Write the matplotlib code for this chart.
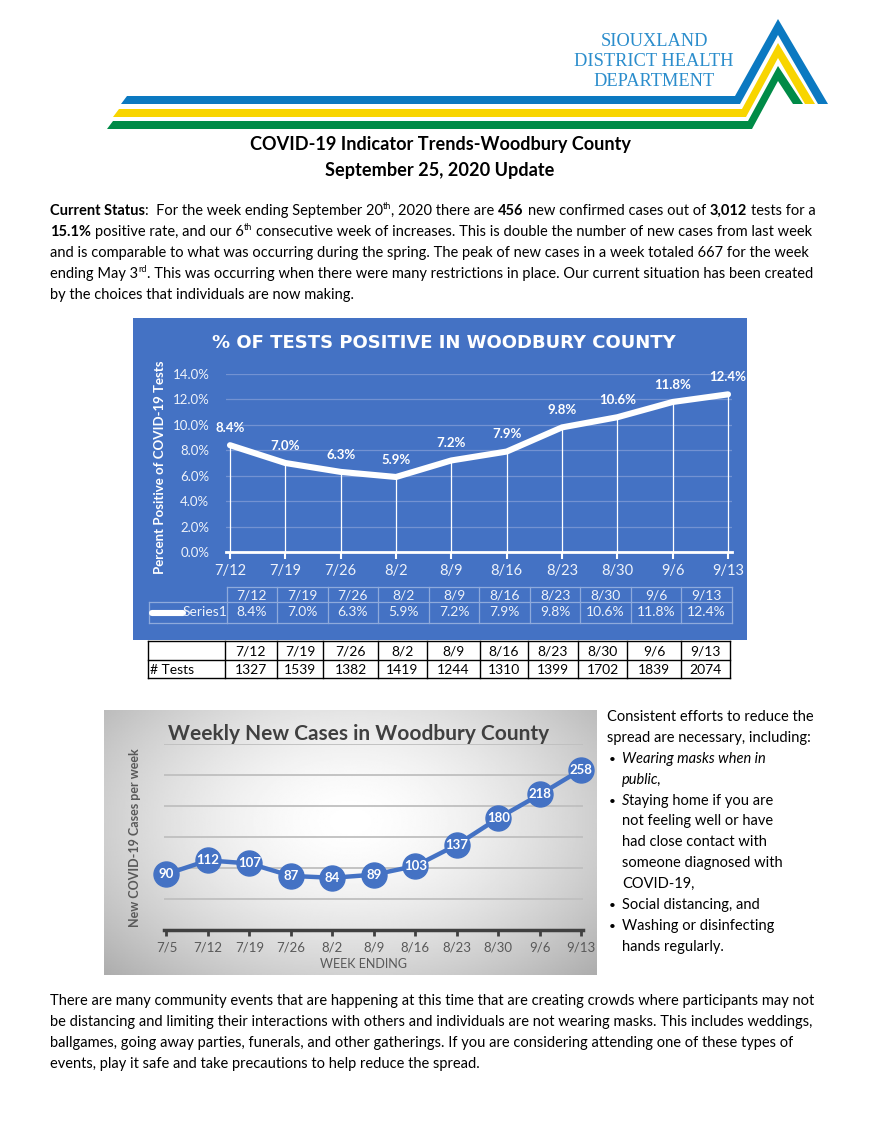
import numpy as np
import matplotlib
matplotlib.use("Agg")
import matplotlib.pyplot as plt
from matplotlib.patches import Polygon, Rectangle

W, H = 880, 1139
BODY = ["Lato", "DejaVu Sans"]

# ---- data ----
pos_weeks = ["7/12", "7/19", "7/26", "8/2", "8/9", "8/16", "8/23", "8/30", "9/6", "9/13"]
pos_rate = [8.4, 7.0, 6.3, 5.9, 7.2, 7.9, 9.8, 10.6, 11.8, 12.4]
num_tests = [1327, 1539, 1382, 1419, 1244, 1310, 1399, 1702, 1839, 2074]
case_weeks = ["7/5", "7/12", "7/19", "7/26", "8/2", "8/9", "8/16", "8/23", "8/30", "9/6", "9/13"]
new_cases = [90, 112, 107, 87, 84, 89, 103, 137, 180, 218, 258]

BLUE = "#4472C4"

fig = plt.figure(figsize=(W / 100, H / 100), dpi=100)
page = fig.add_axes([0, 0, 1, 1])
page.set_xlim(0, W)
page.set_ylim(H, 0)
page.axis("off")
renderer = fig.canvas.get_renderer()


def px_axes(x0, y0, x1, y1):
    return fig.add_axes([x0 / W, 1 - y1 / H, (x1 - x0) / W, (y1 - y0) / H])


def style_kw(style, size):
    return dict(fontsize=size * (0.62 if "^" in style else 1.0),
                fontweight="bold" if "b" in style else "normal",
                fontstyle="italic" if "i" in style else "normal",
                family=BODY)


def text_w(s, style, size):
    t = page.text(0, 0, s, **style_kw(style, size))
    w = t.get_window_extent(renderer).width
    t.remove()
    return w


def adv(s, style, size):
    # advance width incl. spaces / side bearings, measured between two bars
    return text_w("|" + s + "|", style, size) - text_w("||", style, size)


def runs(x, y, parts, size, draw=True, ax=page, color="black"):
    """draw a line made of styled pieces, left to right, baseline at y"""
    for s, style in parts:
        core = s.lstrip(" ")
        lead = s[:len(s) - len(core)]
        x0 = x + (adv(lead, style, size) if lead else 0)
        if draw and core.strip():
            dy = -size * 1.39 * 0.42 if "^" in style else 0
            ax.text(x0, y + dy, core, transform=page.transData, va="baseline",
                    ha="left", color=color, **style_kw(style, size))
        x += adv(s, style, size)
    return x


def fit_size(lines, targets, base=10.0):
    nat = sum(runs(0, 0, p, base, draw=False) for p in lines)
    return base * sum(targets) / nat


# ---- logo ----
blue_c, yel_c, grn_c = "#0b79c1", "#f8d500", "#008b47"
page.add_patch(Polygon([(121, 104), (127, 96), (735, 96), (778, 19), (828, 104),
                        (818, 104), (778, 35), (740, 104)], closed=True, color=blue_c, lw=0))
page.add_patch(Polygon([(113, 117), (119, 109), (742, 109), (778, 43), (815, 104),
                        (805, 104), (778, 58), (746, 117)], closed=True, color=yel_c, lw=0))
page.add_patch(Polygon([(107, 129), (113, 121), (748, 121), (778, 66), (803, 104),
                        (793, 104), (778, 81), (752, 129)], closed=True, color=grn_c, lw=0))
for yy, s in [(42, "SIOUXLAND"), (62, "DISTRICT HEALTH"), (82, "DEPARTMENT")]:
    page.text(654, yy, s, ha="center", va="center", family="Liberation Serif",
              fontsize=13.2, color="#2b8dcc")

# ---- heading ----
t1 = [("COVID-19 Indicator Trends-Woodbury County", "b")]
tsize = fit_size([t1], [382])
for yy, s in [(150, "COVID-19 Indicator Trends-Woodbury County"), (176, "September 25, 2020 Update")]:
    page.text(440, yy, s, ha="center", va="baseline", family=BODY, fontweight="bold",
              fontsize=tsize, color="black")

# ---- first paragraph ----
para1 = [
    [("Current Status", "b"), (":  For the week ending September 20", ""), ("th", "^"),
     (", 2020 there are ", ""), ("456", "b"), (" new confirmed cases out of ", ""),
     ("3,012", "b"), (" tests for a", "")],
    [("15.1%", "b"), (" positive rate, and our 6", ""), ("th", "^"),
     (" consecutive week of increases. This is double the number of new cases from last week", "")],
    [("and is comparable to what was occurring during the spring. The peak of new cases in a week totaled 667 for the week", "")],
    [("ending May 3", ""), ("rd", "^"),
     (". This was occurring when there were many restrictions in place. Our current situation has been created", "")],
    [("by the choices that individuals are now making.", "")],
]
bsize = fit_size(para1[:4], [758, 762, 761, 762])
for i, parts in enumerate(para1):
    runs(50, 215 + i * 20.9, parts, bsize)

# ---- chart 1: % positive ----
page.add_patch(Rectangle((133, 318), 614, 322, color=BLUE, lw=0))
page.text(444, 343, "% OF TESTS POSITIVE IN WOODBURY COUNTY", ha="center", va="center",
          family="DejaVu Sans", fontweight="bold", fontsize=13, color="white")
page.text(160, 467, "Percent Positive of COVID-19 Tests", rotation=90, ha="center",
          va="center", family=BODY, fontweight="bold", fontsize=9.5, color="white")

ax1 = px_axes(226, 374, 732, 552)
ax1.set_facecolor("none")
xs = np.arange(len(pos_weeks))
ax1.set_xlim(-0.072, 9.072)
ax1.set_ylim(0, 14)
ax1.set_yticks(np.arange(0, 15, 2))
ax1.set_yticklabels([f"{v:.1f}%" for v in np.arange(0, 15, 2)], family=BODY,
                    fontsize=9.5, color="#eef2fa")
ax1.set_xticks(xs)
ax1.set_xticklabels(pos_weeks, family=BODY, fontsize=10.5, color="#eef2fa")
ax1.tick_params(axis="y", length=0, pad=12)
ax1.tick_params(axis="x", length=5, width=1.5, color="white", pad=3.5)
ax1.yaxis.grid(True, color="#7392d2", lw=0.9)
ax1.set_axisbelow(True)
for k in ["top", "left", "right"]:
    ax1.spines[k].set_visible(False)
ax1.spines["bottom"].set_color("white")
ax1.spines["bottom"].set_linewidth(2)
ax1.vlines(xs, 0, pos_rate, color="white", lw=0.9, zorder=2)
ax1.plot(xs, pos_rate, color="white", lw=4.4, solid_capstyle="round",
         solid_joinstyle="round", zorder=3, clip_on=False)
for xi, v in zip(xs, pos_rate):
    ax1.annotate(f"{v:.1f}%", (xi, v), xytext=(0, 12.5), textcoords="offset points",
                 ha="center", va="center", family=BODY, fontweight="bold",
                 fontsize=9.5, color="white", annotation_clip=False)

# data table inside chart 1
tcol = np.linspace(226.6, 732, len(pos_weeks) + 1)
bc = "#8eaadc"
for yy in [587, 602, 623]:
    page.plot([tcol[0], tcol[-1]], [yy, yy], color=bc, lw=0.9)
page.plot([149, tcol[0]], [602, 602], color=bc, lw=0.9)
page.plot([149, tcol[0]], [623, 623], color=bc, lw=0.9)
page.plot([149, 149], [602, 623], color=bc, lw=0.9)
for xx in tcol:
    page.plot([xx, xx], [587, 623], color=bc, lw=0.9)
for i, (wk, v) in enumerate(zip(pos_weeks, pos_rate)):
    cx = (tcol[i] + tcol[i + 1]) / 2
    page.text(cx, 595, wk, ha="center", va="center", family=BODY, fontsize=10, color="#eef2fa")
    page.text(cx, 612.5, f"{v:.1f}%", ha="center", va="center", family=BODY, fontsize=10,
              color="#eef2fa")
page.plot([152, 183], [612.5, 612.5], color="white", lw=4.4, solid_capstyle="round")
page.text(183, 612.5, "Series1", ha="left", va="center", family=BODY, fontsize=10, color="#eef2fa")

# ---- tests table ----
ccol = [148, 225, 277, 323, 378, 427, 480, 528, 578, 627, 681, 730]
for yy in [641, 660, 678]:
    page.plot([ccol[0], ccol[-1]], [yy, yy], color="black", lw=1)
for xx in ccol:
    page.plot([xx, xx], [641, 678], color="black", lw=1)
for i, (wk, n) in enumerate(zip(pos_weeks, num_tests)):
    cx = (ccol[i + 1] + ccol[i + 2]) / 2
    page.text(cx, 651, wk, ha="center", va="center", family=BODY, fontsize=10)
    page.text(cx, 669.5, str(n), ha="center", va="center", family=BODY, fontsize=10)
page.text(150, 669.5, "# Tests", ha="left", va="center", family=BODY, fontsize=10)

# ---- chart 2: weekly new cases ----
bg = px_axes(104, 710, 597, 975)
gy, gx = np.mgrid[0:1:200j, 0:1:320j]
r = np.sqrt(((gx - 0.5) / 0.62) ** 2 + ((gy - 0.42) / 0.75) ** 2)
shade = 1 - 0.27 * np.clip(r, 0, 1.3) ** 1.6
bg.imshow(shade, cmap="gray", vmin=0, vmax=1, aspect="auto", extent=[0, 1, 1, 0])
bg.axis("off")

ax2 = px_axes(163.8, 743.5, 583, 930)
ax2.set_facecolor("none")
xc = np.arange(len(case_weeks))
ax2.set_xlim(-0.065, 10.04)
ax2.set_ylim(0, 300)
ax2.set_yticks(np.arange(50, 301, 50))
ax2.tick_params(axis="y", length=0, labelleft=False)
ax2.yaxis.grid(True, color="#bfbfbf", lw=1.3)
ax2.set_axisbelow(True)
ax2.set_xticks(xc)
ax2.set_xticklabels(case_weeks, family=BODY, fontsize=9.5, color="#595959")
ax2.tick_params(axis="x", length=4, width=2, color="#404040", pad=4.5)
for k in ["top", "left", "right"]:
    ax2.spines[k].set_visible(False)
ax2.spines["bottom"].set_color("#404040")
ax2.spines["bottom"].set_linewidth(2.5)
ax2.plot(xc, new_cases, color=BLUE, lw=3.2, marker="o", ms=18, mec=BLUE,
         zorder=3, clip_on=False)
for xi, v in zip(xc, new_cases):
    ax2.text(xi, v, str(v), ha="center", va="center", family=BODY, fontweight="bold",
             fontsize=9.5, color="white", zorder=4)
ax2.text(359, 733.5, "Weekly New Cases in Woodbury County", transform=page.transData,
         ha="center", va="center", family=BODY, fontweight="bold", fontsize=15, color="#404040")
ax2.text(364, 964, "WEEK ENDING", transform=page.transData, ha="center", va="center",
         family=BODY, fontsize=9, color="#595959")
ax2.text(135, 838, "New COVID-19 Cases per week", transform=page.transData, rotation=90,
         ha="center", va="center", family=BODY, fontweight="bold", fontsize=9, color="#595959")

# ---- right column ----
side = [
    (607, [("Consistent efforts to reduce the", "")]),
    (607, [("spread are necessary, including:", "")]),
    (622, [("Wearing masks when in", "i")]),
    (622, [("public,", "i")]),
    (622, [("S", "i"), ("taying home if you are", "")]),
    (622, [("not feeling well or have", "")]),
    (622, [("had close contact with", "")]),
    (622, [("someone diagnosed with", "")]),
    (622, [("COVID-19,", "")]),
    (622, [("Social distancing, and", "")]),
    (622, [("Washing or disinfecting", "")]),
    (622, [("hands regularly.", "")]),
]
bullets = {2, 4, 9, 10}
for i, (x0, parts) in enumerate(side):
    yb = 721 + i * 20.9
    runs(x0, yb, parts, bsize)
    if i in bullets:
        page.text(612, yb, "\u2022", ha="center", va="baseline", family=BODY, fontsize=bsize * 0.8)

# ---- last paragraph ----
para2 = [
    [("There are many community events that are happening at this time that are creating crowds where participants may not", "")],
    [("be distancing and limiting their interactions with others and individuals are not wearing masks. This includes weddings,", "")],
    [("ballgames, going away parties, funerals, and other gatherings. If you are considering attending one of these types of", "")],
    [("events, play it safe and take precautions to help reduce the spread.", "")],
]
for i, parts in enumerate(para2):
    runs(50, 1005 + i * 20.9, parts, bsize)

fig.savefig("out.png", dpi=100)
